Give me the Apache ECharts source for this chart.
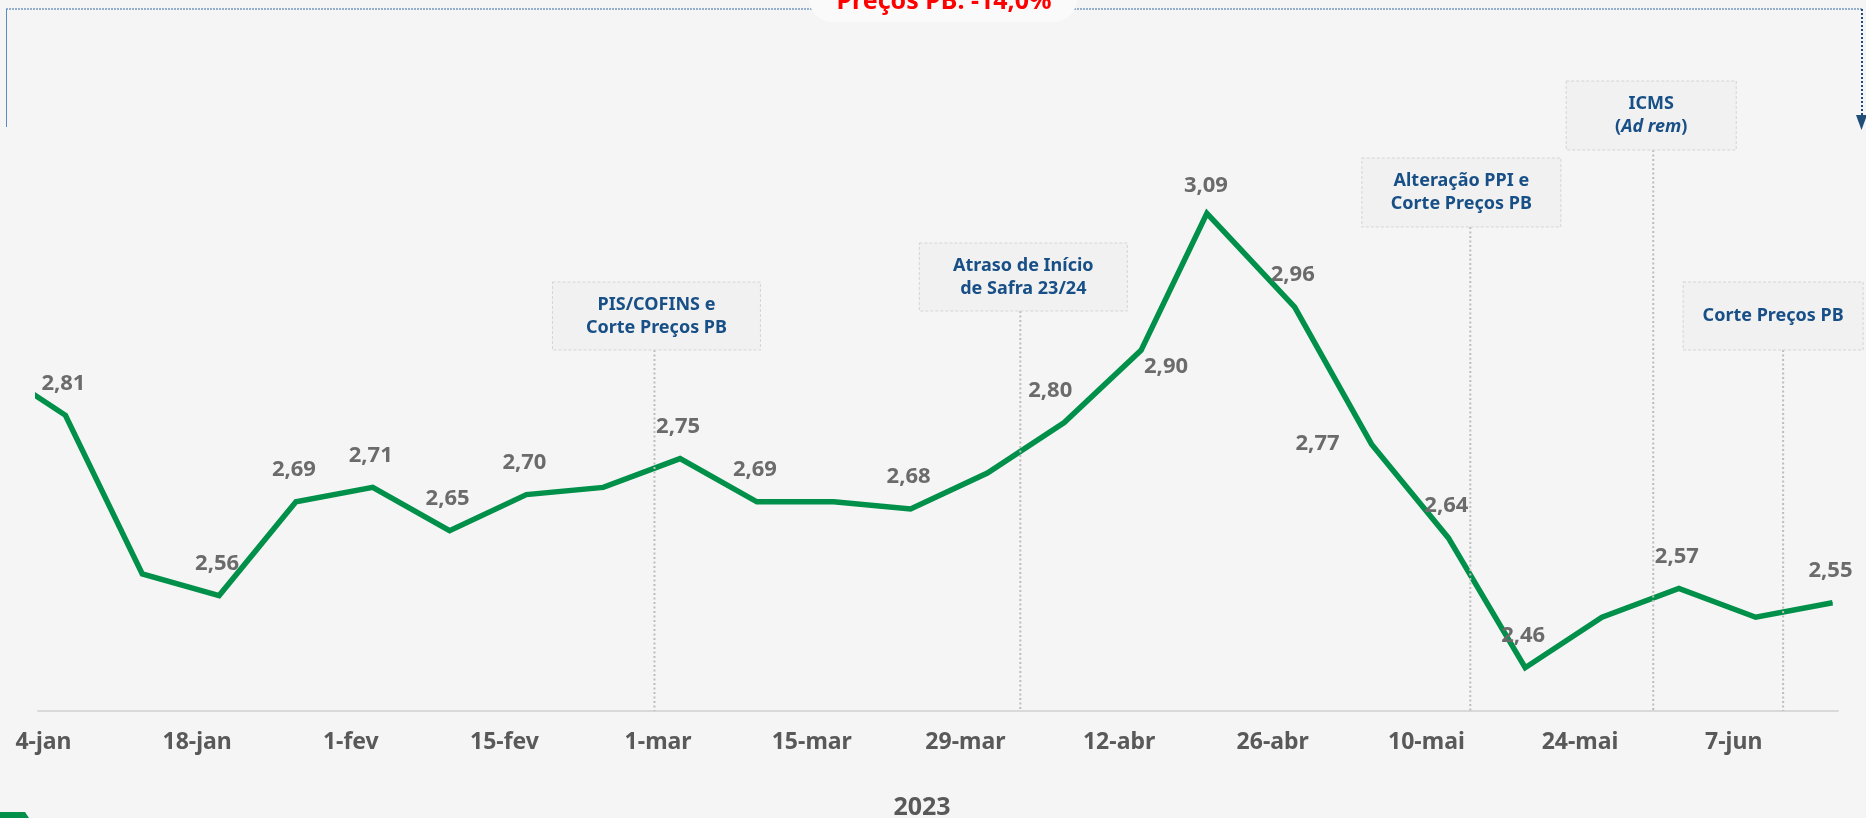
<!DOCTYPE html>
<html>
<head>
<meta charset="utf-8">
<title>Preços PB 2023</title>
<script src="https://cdn.jsdelivr.net/npm/echarts@6/dist/echarts.min.js"></script>
<style>
	html, body { margin: 0; padding: 0; background: #f5f5f5; }
	#chart { width: 1866px; height: 818px; }
</style>
</head>
<body>
<div id="chart"></div>
<script>
	// coletas semanais (sextas; 20-abr por causa do feriado)
	var dates = ['2022-12-30', '2023-01-06', '2023-01-13', '2023-01-20', '2023-01-27', '2023-02-03',
		'2023-02-10', '2023-02-17', '2023-02-24', '2023-03-03', '2023-03-10', '2023-03-17', '2023-03-24',
		'2023-03-31', '2023-04-07', '2023-04-14', '2023-04-20', '2023-04-28', '2023-05-05', '2023-05-12',
		'2023-05-19', '2023-05-26', '2023-06-02', '2023-06-09', '2023-06-16']
	var prices = [2.88, 2.81, 2.59, 2.56, 2.69, 2.71, 2.65, 2.70, 2.71, 2.75, 2.69, 2.69, 2.68,
		2.73, 2.80, 2.90, 3.09, 2.96, 2.77, 2.64, 2.46, 2.53, 2.57, 2.53, 2.55]
	// pontos com rótulo
	var labelled = [0, 1, 0, 1, 1, 1, 1, 1, 0, 1, 1, 0, 1, 0, 1, 1, 1, 1, 1, 1, 1, 0, 1, 0, 1]

	// rótulos do eixo x
	var tickDates = ['2023-01-04', '2023-01-18', '2023-02-01', '2023-02-15', '2023-03-01', '2023-03-15',
		'2023-03-29', '2023-04-12', '2023-04-26', '2023-05-10', '2023-05-24', '2023-06-07']
	var tickLabels = ['4-jan', '18-jan', '1-fev', '15-fev', '1-mar', '15-mar',
		'29-mar', '12-abr', '26-abr', '10-mai', '24-mai', '7-jun']

	// eventos
	var eventDates = ['2023-02-28T16:00', '2023-04-03', '2023-05-14', '2023-05-30T16:00', '2023-06-11T12:00']
	var eventTexts = [
		'{b|PIS/COFINS e}\n{b|Corte Preços PB}',
		'{b|Atraso de Início}\n{b|de Safra 23/24}',
		'{b|Alteração PPI e}\n{b|Corte Preços PB}',
		'{b|ICMS}\n{b|(}{i|Ad rem}{b|)}',
		'{b|Corte Preços PB}'
	]

	// layout das caixas: deslocamento do centro, topo, largura, altura
	var boxLayout = [
		{ dx: 2, top: 282, w: 208, h: 68 },
		{ dx: 3, top: 243, w: 208, h: 68 },
		{ dx: -9, top: 158, w: 199, h: 69 },
		{ dx: -2, top: 81, w: 170, h: 69 },
		{ dx: -10, top: 282, w: 180, h: 68 }
	]
	// posição de cada rótulo de valor (padrão acima do ponto)
	var labelOffsets = { 14: [-14, -32], 15: [25, 16], 16: [-1, -28], 18: [-54, 0] }

	var FONT = '"Noto Sans", "Open Sans", sans-serif'
	var GREEN = '#00904a'
	var BLUE = '#174f86'

	function ts(d) {
		return echarts.time.parse(d).getTime()
	}
	var tickTimes = tickDates.map(ts)

	var seriesData = dates.map(function (d, i) {
		return {
			value: [ts(d), prices[i]],
			label: {
				show: labelled[i] === 1,
				offset: labelOffsets[i] || [-2, -32]
			}
		}
	})

	var chart = echarts.init(document.getElementById('chart'))

	var option = {
		backgroundColor: '#f5f5f5',
		animation: false,
		grid: { left: 38, right: 28, top: 134, bottom: 107, outerBoundsMode: 'none' },
		xAxis: {
			type: 'value',
			min: ts('2023-01-03T12:00'),
			max: ts('2023-06-16T12:00'),
			axisLine: { show: true, lineStyle: { color: '#d9d9d9', width: 2 } },
			axisTick: { show: false },
			splitLine: { show: false },
			axisLabel: {
				customValues: tickTimes,
				margin: 20,
				fontFamily: FONT,
				fontWeight: 'bold',
				fontSize: 23,
				color: '#595959',
				formatter: function (value) {
					var k = tickTimes.indexOf(+value)
					return k >= 0 ? tickLabels[k] : ''
				}
			},
			name: '2023',
			nameLocation: 'middle',
			nameGap: 84,
			nameTextStyle: {
				fontFamily: FONT,
				fontWeight: 'bold',
				fontSize: 25,
				color: '#595959',
				padding: [0, 32, 0, 0]
			}
		},
		yAxis: {
			type: 'value',
			min: 2.4,
			max: 3.2,
			show: false,
			splitLine: { show: false }
		},
		series: [{
			type: 'line',
			data: seriesData,
			symbol: 'circle',
			symbolSize: 1,
			itemStyle: { color: GREEN },
			lineStyle: { color: GREEN, width: 5.5, join: 'miter' },
			emphasis: { disabled: true },
			label: {
				position: 'inside',
				fontFamily: FONT,
				fontWeight: 'bold',
				fontSize: 22,
				color: '#6b6b6b',
				formatter: function (p) {
					return p.value[1].toFixed(2).replace('.', ',')
				}
			}
		}]
	}
	chart.setOption(option)

	// caixas de eventos e linhas pontilhadas
	var graphics = []
	eventDates.forEach(function (d, k) {
		var bottom = chart.convertToPixel({ gridIndex: 0 }, [ts(d), 2.4])
		var x = bottom[0]
		var b = boxLayout[k]
		graphics.push({
			type: 'line',
			shape: { x1: x, y1: b.top + b.h, x2: x, y2: bottom[1] },
			style: { stroke: '#bdbdbd', lineWidth: 2, lineDash: [2, 2.5] },
			z: 5
		})
		graphics.push({
			type: 'rect',
			shape: { x: x + b.dx - b.w / 2, y: b.top, width: b.w, height: b.h },
			style: { fill: '#f1f1f1', stroke: '#d5d5d5', lineWidth: 1, lineDash: [3, 2] },
			z: 6
		})
		graphics.push({
			type: 'text',
			x: x + b.dx,
			y: b.top + b.h / 2,
			style: {
				text: eventTexts[k],
				align: 'center',
				verticalAlign: 'middle',
				rich: {
					b: { fontFamily: FONT, fontWeight: 'bold', fontSize: 18, lineHeight: 23, fill: BLUE },
					i: { fontFamily: FONT, fontWeight: 'bold', fontStyle: 'italic', fontSize: 18, lineHeight: 23, fill: BLUE }
				}
			},
			z: 7
		})
	})

	// moldura superior com variação de preços
	graphics.push(
		{ type: 'line', shape: { x1: 6, y1: 9, x2: 1862, y2: 9 },
			style: { stroke: '#94afcd', lineWidth: 2, lineDash: [2, 1] }, z: 5 },
		{ type: 'line', shape: { x1: 6.5, y1: 9, x2: 6.5, y2: 127 },
			style: { stroke: '#5b8cc0', lineWidth: 1 }, z: 5 },
		{ type: 'line', shape: { x1: 1862, y1: 9, x2: 1862, y2: 116 },
			style: { stroke: '#1f4e79', lineWidth: 2, lineDash: [2, 2] }, z: 5 },
		{ type: 'polygon', shape: { points: [[1856, 115], [1867, 115], [1861.5, 130]] },
			style: { fill: '#1f4e79' }, z: 5 },
		{ type: 'rect', shape: { x: 809, y: -25, width: 268, height: 47, r: 23 },
			style: { fill: '#fafafa' }, z: 6 },
		{ type: 'text', x: 944, y: 2, style: {
			text: 'Preços PB: -14,0%', align: 'center', verticalAlign: 'middle',
			fontFamily: FONT, fontWeight: 'bold', fontSize: 25, fill: '#ff0000'
		}, z: 7 },
		{ type: 'polygon', shape: { points: [[0, 812], [25, 812], [29, 818], [0, 818]] },
			style: { fill: GREEN }, z: 5 }
	)

	chart.setOption({ graphic: graphics })
</script>
</body>
</html>
